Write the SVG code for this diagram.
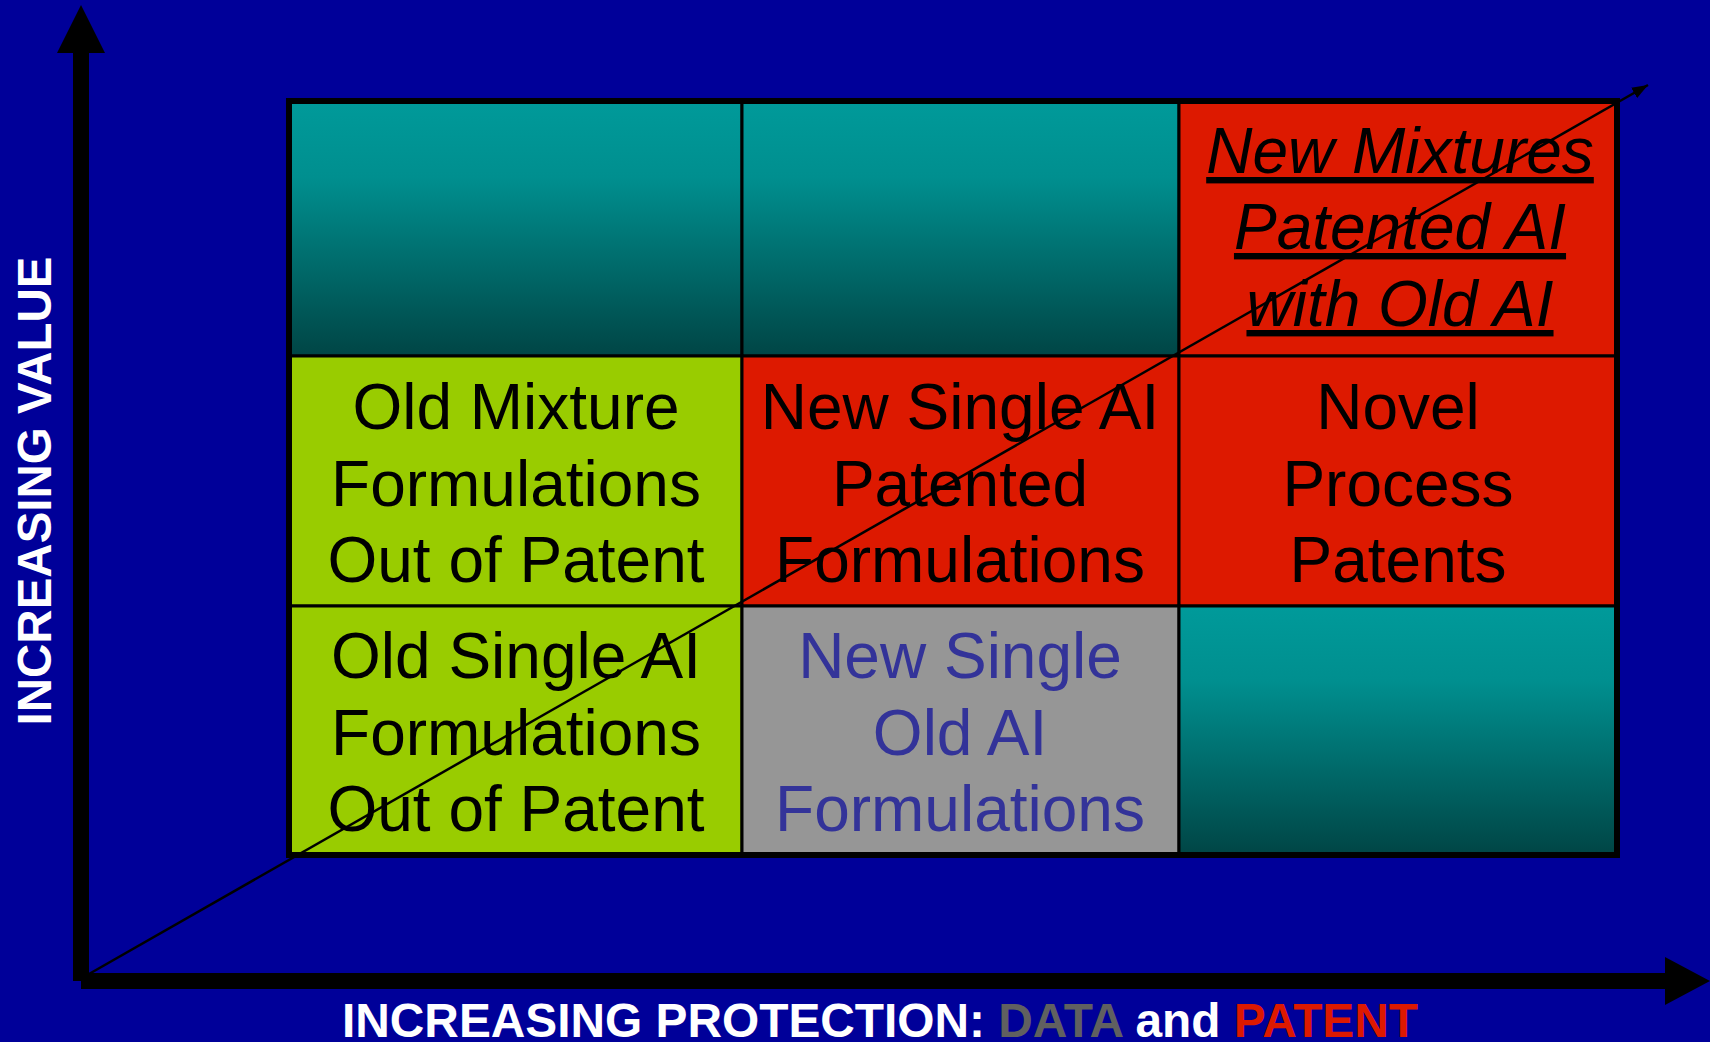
<svg xmlns="http://www.w3.org/2000/svg" width="1710" height="1042" viewBox="0 0 1710 1042">
  <defs>
    <linearGradient id="teal" x1="0" y1="0" x2="0" y2="1">
      <stop offset="0" stop-color="#009a9a"/>
      <stop offset="0.3" stop-color="#008f8f"/>
      <stop offset="1" stop-color="#004545"/>
    </linearGradient>
    <marker id="diagHead" viewBox="0 0 16 12" refX="16" refY="6" markerWidth="16" markerHeight="12" markerUnits="userSpaceOnUse" orient="auto">
      <path d="M0,0 L16,6 L0,12 Z" fill="#000"/>
    </marker>
    <style>
      .cell { stroke: #000; stroke-width: 3; }
      .txt { font-family: "Liberation Sans", Arial, sans-serif; font-size: 64px; text-anchor: middle; fill: #000; }
      .ital { font-style: italic; text-decoration: underline; }
      .blue { fill: #333399; }
      .axislbl { font-family: "Liberation Sans", Arial, sans-serif; font-weight: bold; fill: #fff; }
    </style>
  </defs>

  <rect x="0" y="0" width="1710" height="1042" fill="#000099"/>

  <g id="cell-r1c1"><rect class="cell" x="289" y="101" width="453" height="255" fill="url(#teal)"/></g>
  <g id="cell-r1c2"><rect class="cell" x="742" y="101" width="437" height="255" fill="url(#teal)"/></g>
  <g id="cell-r1c3">
    <rect class="cell" x="1179" y="101" width="438" height="255" fill="#dd1900"/>
    <text class="txt ital" x="1400" y="173">New Mixtures</text>
    <text class="txt ital" x="1400" y="249">Patented AI</text>
    <text class="txt ital" x="1400" y="326">with Old AI</text>
  </g>

  <g id="cell-r2c1">
    <rect class="cell" x="289" y="356" width="453" height="250" fill="#99cc00"/>
    <text class="txt" x="516" y="429">Old Mixture</text>
    <text class="txt" x="516" y="506">Formulations</text>
    <text class="txt" x="516" y="582">Out of Patent</text>
  </g>
  <g id="cell-r2c2">
    <rect class="cell" x="742" y="356" width="437" height="250" fill="#dd1900"/>
    <text class="txt" x="960" y="429">New Single AI</text>
    <text class="txt" x="960" y="506">Patented</text>
    <text class="txt" x="960" y="582">Formulations</text>
  </g>
  <g id="cell-r2c3">
    <rect class="cell" x="1179" y="356" width="438" height="250" fill="#dd1900"/>
    <text class="txt" x="1398" y="429">Novel</text>
    <text class="txt" x="1398" y="506">Process</text>
    <text class="txt" x="1398" y="582">Patents</text>
  </g>

  <g id="cell-r3c1">
    <rect class="cell" x="289" y="606" width="453" height="249" fill="#99cc00"/>
    <text class="txt" x="516" y="678">Old Single AI</text>
    <text class="txt" x="516" y="755">Formulations</text>
    <text class="txt" x="516" y="831">Out of Patent</text>
  </g>
  <g id="cell-r3c2">
    <rect class="cell" x="742" y="606" width="437" height="249" fill="#969696"/>
    <text class="txt blue" x="960" y="678">New Single</text>
    <text class="txt blue" x="960" y="755">Old AI</text>
    <text class="txt blue" x="960" y="831">Formulations</text>
  </g>
  <g id="cell-r3c3"><rect class="cell" x="1179" y="606" width="438" height="249" fill="url(#teal)"/></g>

  <g id="grid-frame">
    <rect x="289" y="101" width="1328" height="754" fill="none" stroke="#000" stroke-width="6"/>
  </g>

  <g id="connectors">
    <line x1="81" y1="981" x2="81" y2="50" stroke="#000" stroke-width="16"/>
    <polygon points="57,53 105,53 81,5" fill="#000"/>
    <line x1="81" y1="981" x2="1667" y2="981" stroke="#000" stroke-width="16"/>
    <polygon points="1665,957 1665,1005 1710,981" fill="#000"/>
    <line x1="89" y1="974" x2="1648" y2="85" stroke="#000" stroke-width="2.5" marker-end="url(#diagHead)"/>
  </g>

  <g id="labels">
    <text class="axislbl" font-size="47.5" text-anchor="middle" transform="translate(51,491) rotate(-90)">INCREASING VALUE</text>
    <text class="axislbl" font-size="48" x="342" y="1037" textLength="1076" lengthAdjust="spacingAndGlyphs">INCREASING PROTECTION: <tspan fill="#606060">DATA</tspan> and <tspan fill="#dd1900">PATENT</tspan></text>
  </g>
</svg>
